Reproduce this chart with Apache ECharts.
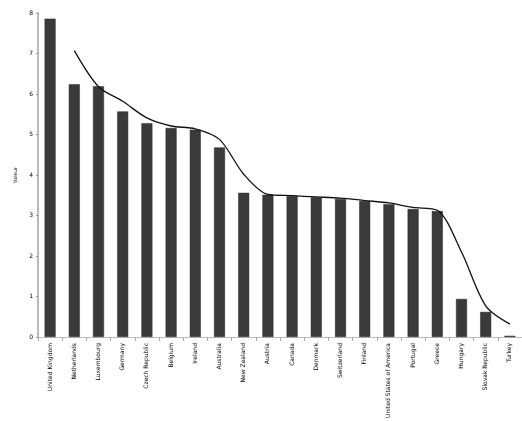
<!DOCTYPE html>
<html>
<head>
<meta charset="utf-8">
<script src="https://cdn.jsdelivr.net/npm/echarts@6/dist/echarts.min.js"></script>
<style>html,body{margin:0;padding:0;background:#fff}#c{width:522px;height:421px}</style>
</head>
<body>
<div id="c"></div>
<script>
const categories = ["United Kingdom","Netherlands","Luxembourg","Germany","Czech Republic","Belgium","Ireland","Australia","New Zealand","Austria","Canada","Denmark","Switzerland","Finland","United States of America","Portugal","Greece","Hungary","Slovak Republic","Turkey"];
const barValues = [7.86, 6.24, 6.19, 5.57, 5.28, 5.16, 5.12, 4.68, 3.56, 3.51, 3.48, 3.45, 3.41, 3.36, 3.28, 3.16, 3.11, 0.94, 0.62, 0.03];
const trendValues = [null, 7.07, 6.18, 5.82, 5.41, 5.21, 5.14, 4.88, 4.02, 3.52, 3.49, 3.46, 3.43, 3.37, 3.31, 3.20, 3.13, 2.10, 0.77, 0.32];
const yTicks = [0, 8, 1];
const yTitle = "Valeur";

const chart = echarts.init(document.getElementById('c'), null, {renderer: 'canvas'});
chart.setOption({
  animation: false,
  backgroundColor: '#fff',
  grid: {left: 38, right: -8, top: 13, bottom: 76, containLabel: false},
  xAxis: {
    type: 'category',
    data: categories,
    axisLine: {show: true, lineStyle: {color: '#bbb', width: 1}},
    axisTick: {show: true, length: 4, lineStyle: {color: '#aaa'}},
    axisLabel: {rotate: 90, interval: 0, fontSize: 6, color: '#000', fontFamily: 'DejaVu Sans', margin: 6}
  },
  yAxis: {
    type: 'value',
    min: yTicks[0], max: yTicks[1], interval: yTicks[2],
    name: yTitle,
    nameLocation: 'middle',
    nameGap: 9,
    nameRotate: 90,
    nameTextStyle: {fontSize: 5, color: '#000', fontFamily: 'DejaVu Sans'},
    axisLine: {show: true, lineStyle: {color: '#bbb', width: 2}},
    axisTick: {show: true, length: 2, lineStyle: {color: '#999'}},
    axisLabel: {fontSize: 6, color: '#000', margin: 5, fontFamily: 'DejaVu Sans'},
    splitLine: {show: false}
  },
  series: [
    {
      type: 'bar',
      data: barValues,
      barWidth: 11,
      itemStyle: {color: '#3a3a3a', borderColor: '#2a2a2a', borderWidth: 0.5}
    },
    {
      type: 'line',
      data: trendValues,
      smooth: 0.3,
      showSymbol: false,
      connectNulls: false,
      lineStyle: {color: '#111', width: 1.3},
      z: 5
    }
  ]
});
</script>
</body>
</html>
